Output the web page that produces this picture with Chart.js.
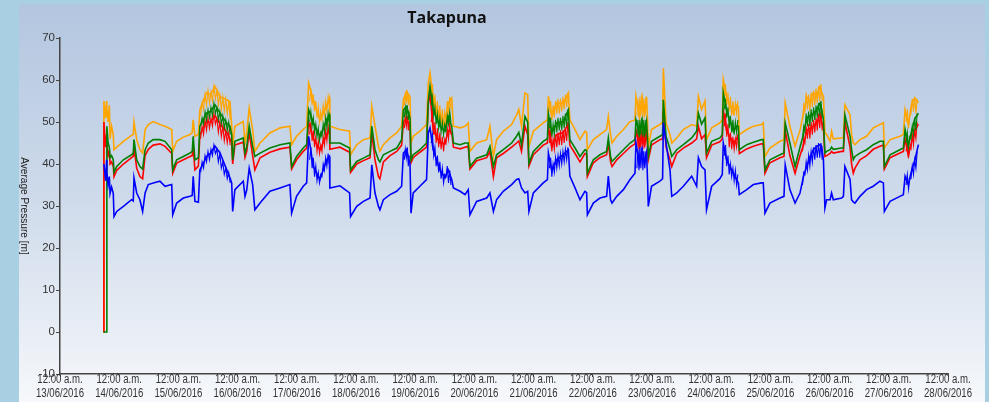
<!DOCTYPE html>
<html>
<head>
<meta charset="utf-8">
<script src="https://cdn.jsdelivr.net/npm/chart.js@4.4.1/dist/chart.umd.min.js"></script>
<style>
  html, body { margin: 0; padding: 0; background: #a9cfe2; }
  canvas { display: block; }
</style>
</head>
<body>
<canvas id="takapuna" width="989" height="402"></canvas>
<script>
// hours since 12:00 a.m. 13/06/2016
const hours = [
  17.6, 17.8, 18.5, 18.9, 19.0, 19.5, 20.0, 20.3, 20.9, 21.6, 21.9, 23.0, 25.7, 29.0, 29.7, 30.0,
  31.1, 32.4, 33.5, 34.5, 35.8, 37.8, 40.5, 42.6, 45.3, 45.7, 47.3, 50.0, 52.7, 53.6, 54.0, 54.7,
  56.1, 56.7, 58.0, 59.4, 61.0, 62.8, 64.9, 67.6, 68.9, 69.6, 70.0, 70.9, 74.3, 75.0, 75.7, 76.7,
  78.1, 79.0, 81.1, 85.1, 89.2, 93.2, 93.9, 95.9, 98.6, 100.0, 100.8, 102.7, 105.4, 108.1, 109.2, 109.4,
  113.5, 117.4, 117.8, 120.3, 123.0, 125.7, 126.4, 127.7, 129.1, 129.7, 131.1, 133.8, 136.5, 138.5, 139.2, 140.5,
  141.9, 142.3, 143.2, 145.9, 148.6, 149.3, 150.0, 151.3, 154.0, 156.1, 157.4, 158.8, 159.5, 162.2, 164.2, 165.5,
  166.2, 168.9, 173.0, 174.3, 175.7, 177.0, 179.7, 183.1, 185.1, 186.0, 187.1, 188.5, 189.6, 190.1, 191.9, 195.9,
  197.6, 198.0, 199.3, 201.3, 204.0, 206.1, 206.7, 208.8, 210.8, 212.8, 213.5, 213.8, 216.2, 218.9, 221.6, 222.3,
  223.2, 223.8, 225.7, 228.4, 231.1, 233.1, 233.5, 235.0, 236.0, 237.0, 237.8, 238.2, 238.5, 239.8, 243.2, 244.3,
  244.6, 245.7, 247.3, 248.0, 250.0, 252.7, 256.1, 258.1, 258.8, 260.1, 261.5, 262.1, 264.2, 267.5, 268.5, 268.9,
  270.2, 273.0, 274.3, 275.0, 275.4, 278.4, 281.1, 284.4, 285.1, 285.8, 287.8, 291.9, 293.5, 294.0, 295.9, 298.0,
  300.0, 301.4, 302.7, 304.1, 305.4, 306.8, 308.1, 308.8, 309.5, 310.1, 310.8, 312.2, 312.8, 313.5, 316.9, 317.6,
  318.2, 320.3, 320.9, 321.6, 322.3, 324.3, 327.0, 329.7, 332.4, 333.8, 334.2, 336.5, 340.5, 341.9, 342.6, 343.9,
  345.3, 346.6, 348.0
];

const orange = [
  0, 55, 51, 55, 53, 50, 54, 46, 49, 47, 43.4, 44, 45.4, 46.8, 47, 50,
  45.8, 43.4, 42.6, 48.2, 49.4, 50.1, 49.4, 49, 48.2, 43, 45.4, 46.4, 47, 47.5, 50.5, 46.6,
  47, 52.9, 55, 57, 56.5, 58.5, 56, 55.3, 54.9, 49, 44.2, 49, 50.1, 45, 47.4, 53.3,
  48.2, 43, 45, 47.4, 48.6, 49, 44.6, 46.6, 48.2, 49, 59.3, 55.3, 50.5, 53.7, 55.7, 49,
  48.2, 47.8, 42.2, 44.6, 45.8, 46.2, 53.7, 49, 44.2, 43, 44.6, 46.2, 47.4, 49, 55.3, 57.3,
  56, 45, 46.6, 47.8, 49.4, 59.3, 61.7, 55.3, 51.3, 49, 54.5, 55.7, 49, 48.6, 49, 49.8,
  43, 45, 45.8, 49, 41.8, 45.8, 47.8, 49.4, 51.7, 53, 49, 56.9, 56.5, 44.2, 47.8, 49.8,
  50.5, 56.1, 51.3, 54.5, 54.5, 56.9, 50.5, 48.2, 45.8, 47.8, 47.5, 43.4, 45.8, 47, 48.2, 51.3,
  47, 45, 46.6, 48.2, 50.1, 50.5, 56.1, 51, 56, 52, 56, 50, 44.2, 48.2, 49.4, 50,
  62.8, 49.8, 47, 45, 46.2, 48.2, 49.4, 49, 56.1, 53, 55, 45.8, 48.6, 49.8, 50.5, 60.1,
  56.1, 52.1, 54, 53.7, 47, 48.2, 49, 49.4, 49.8, 41.8, 43.8, 45.4, 45.8, 54.5, 49, 44.2,
  48, 52, 56, 55, 57, 56, 58.5, 57, 56.1, 47.4, 47, 45.4, 47.8, 46, 46.2, 46.2,
  54.1, 51.7, 47, 45, 44.6, 45.8, 46.6, 48.6, 49.4, 49.8, 43.8, 45.8, 46.6, 47, 52.9, 49.4,
  54.5, 55.7, 54.5
];

const green = [
  0, 0, 0, 0, 49, 45, 44, 41.5, 42, 41, 38, 39.4, 41, 42.2, 42.5, 45.8,
  41, 39.4, 38.8, 43.4, 45, 45.8, 45.8, 45.4, 43.4, 38.6, 41, 41.8, 42.6, 43, 46.6, 41,
  41.5, 49, 50.5, 52.1, 52.5, 54.1, 52.1, 49.7, 49, 47, 41, 45.4, 46.2, 42.6, 44, 49,
  44.2, 41.8, 42.6, 43.8, 44.6, 45, 39.4, 41.8, 43.8, 44.6, 52.9, 49.8, 46.6, 50.5, 51.7, 45,
  45, 43.8, 38.6, 40.6, 41.4, 42.2, 49, 43.4, 41, 40.5, 42.2, 43, 43.8, 45.8, 52.9, 53.7,
  51, 41, 42.2, 43.4, 45, 55, 58.5, 52.9, 49, 47.8, 51.3, 49, 45, 44.6, 45, 45,
  39.4, 41.4, 42.2, 44.2, 39.4, 42.2, 43.4, 45, 46.6, 47.5, 44.6, 51.3, 50, 40.2, 43, 45.4,
  46, 52, 47.4, 49.8, 50.1, 52.9, 45.8, 43.8, 41.8, 43.4, 43.2, 37.8, 41, 42.2, 43, 46.2,
  41.8, 40.6, 41.8, 43.4, 45, 45.8, 50.5, 47, 50.5, 47, 50, 46, 41.8, 45.4, 46.6, 47,
  55.3, 46.6, 43.5, 41.8, 43.4, 44.6, 46.2, 47.8, 52.1, 49.5, 51, 42.6, 45.4, 46.2, 47, 56.9,
  52.9, 47.8, 49, 49, 43.4, 44.6, 45.2, 45.8, 45.8, 38.6, 41, 42.2, 42.6, 49.8, 45, 39.4,
  44, 47, 51, 51.5, 52, 53, 54.5, 53, 50.5, 42.6, 43, 43.4, 44, 43.5, 43.8, 43.8,
  51.7, 46.6, 43.5, 41, 41.8, 42.6, 43.4, 44.6, 45.4, 45.4, 39.4, 42.2, 43.4, 43.8, 48.2, 44.2,
  48, 50.9, 52.1
];

const red = [
  0, 50, 44, 47, 45, 42, 43, 40, 40.5, 39.5, 37, 38.5, 40, 41.5, 41.8, 44,
  39, 37, 36.5, 42, 43.5, 44.5, 44.8, 44.2, 42.5, 37.8, 40.2, 41, 41.8, 42, 44, 38.6,
  39.5, 47, 48.5, 50, 50, 51.5, 49.5, 47.5, 46, 45, 40, 44.5, 45.2, 41.6, 43, 47.5,
  42, 38.6, 41.5, 42.8, 43.6, 44, 38.8, 41, 43, 43.8, 50, 46, 43.4, 47, 48.5, 43.5,
  44, 42.8, 38, 40, 40.8, 41.5, 47.5, 41, 37, 36.5, 40.5, 42, 43, 44.5, 50, 51,
  49, 40.3, 41.5, 42.8, 44, 54, 57, 48, 45, 44.8, 48, 47.5, 44, 43.6, 44, 44.2,
  38.8, 40.8, 41.5, 43, 37, 41.5, 42.5, 44, 45, 45.5, 43, 49, 47, 39.5, 42.2, 44.5,
  45, 49, 44, 47, 47.5, 49.5, 44.5, 42.5, 40.5, 42.5, 42.3, 37, 40.3, 41.5, 42.2, 45,
  40.5, 39.4, 41, 42.5, 44, 44.8, 48, 44, 47, 44.5, 47.5, 44, 41, 44.5, 45.8, 46,
  53, 44, 41, 39.4, 42.5, 43.8, 45, 46, 49, 46, 47, 41.5, 44.5, 45.3, 46, 53,
  48, 45, 46, 47, 42.5, 43.6, 44.2, 44.8, 44.8, 37.8, 40.3, 41.5, 41.8, 48, 42, 37.8,
  42, 44.5, 48, 48.5, 49, 50, 51.5, 50, 48.5, 41.8, 42, 42.5, 43, 42.6, 43, 43,
  50, 44, 40, 37.8, 39, 41, 42, 43.5, 44.2, 44.5, 38.8, 41.5, 42.6, 43, 46, 42,
  45.5, 48, 49.5
];

const blue = [
  null, 40, 36, 41, 38, 35, 37, 33, 34.5, 33, 27.5, 28.7, 29.9, 31.5, 31.2, 36.7,
  33.1, 31.5, 28.7, 33.1, 35.1, 35.5, 35.9, 34.7, 35.1, 27.9, 30.7, 31.9, 32.3, 32.5, 37.1, 31.1,
  30.9, 38.6, 40, 41.8, 42.5, 44.3, 42.6, 38.6, 36.7, 35.5, 28.7, 33.9, 35.9, 32.3, 33.8, 39,
  35.1, 29.1, 30.7, 33.5, 34.3, 35.1, 28.3, 32.3, 34.7, 35.5, 46.6, 39.4, 36.3, 41, 41.8, 34.3,
  34.8, 33.1, 27.5, 29.9, 31.1, 31.9, 39.8, 33.1, 29.9, 29.1, 31.5, 32.7, 33.5, 34.7, 42.6, 43.4,
  40, 28.3, 33.1, 34.7, 36.3, 47.4, 48.6, 43.4, 38.6, 36.7, 38.6, 36.3, 34.3, 33.5, 32.7, 33.9,
  27.9, 31.1, 31.9, 33.1, 28.7, 31.5, 33.5, 35.1, 36.3, 36.5, 34.3, 33.1, 33.5, 28.7, 33.1, 35.5,
  36.3, 42.6, 38.6, 41, 42.2, 43.4, 37.1, 34.3, 31.5, 33.5, 33.2, 27.9, 30.7, 31.9, 32.3, 37.1,
  31.5, 30.7, 32.3, 33.9, 36.3, 37.8, 45, 40, 43.5, 40, 42.6, 36, 29.9, 34.7, 35.9, 36.5,
  49.8, 45, 38.6, 32.3, 33.1, 34.7, 37.1, 34.7, 41.5, 39.4, 38.6, 29.1, 34.7, 36.5, 37.5, 45,
  41, 37.8, 36.3, 35.5, 32.7, 33.9, 35.1, 35.5, 35.5, 28.3, 30.7, 31.9, 32.3, 39.8, 33.9, 30.7,
  33.1, 37, 39.4, 41.8, 43.4, 44.2, 44.6, 44.2, 41, 29.5, 31.5, 31.5, 33.1, 31.5, 31.9, 32.3,
  39.4, 36.3, 31.5, 31, 30.7, 32.3, 33.9, 34.7, 35.9, 35.5, 28.7, 31.1, 32.3, 32.7, 37.1, 35.1,
  38.6, 41, 44.6
];

// noisy high-pressure stretches, read as upper/lower swings; null breaks the line
const bandHours = [
  57.0, 57.6, 58.2, 58.8, 59.4, 60.0, 60.6, 61.2, 61.8, 62.4, 63.0, 63.6, 64.2, 64.8, 65.4, 66.0, 66.6, 67.2, 67.8, 68.4, 69.0, 69.3,
  101.2, 101.7, 102.2, 102.7, 103.2, 103.7, 104.2, 104.7, 105.2, 105.7, 106.2, 106.7, 107.2, 107.7, 108.2, 108.7, 109.1, 109.3,
  139.6, 140.0, 140.4, 140.8, 141.2, 141.6, 141.8,
  150.5, 151.0, 151.5, 152.0, 152.5, 153.0, 153.5, 154.0, 154.5, 155.0, 155.5, 156.0, 156.5, 157.0, 157.5, 158.0, 158.5, 158.9,
  198.4, 198.9, 199.4, 199.9, 200.4, 200.9, 201.4, 201.9, 202.4, 202.9, 203.4, 203.9, 204.4, 204.9, 205.4, 205.9, 206.3,
  233.9, 234.3, 234.7, 235.1, 235.5, 235.9, 236.3, 236.7, 237.1, 237.5, 237.9,
  269.3, 269.8, 270.3, 270.8, 271.3, 271.8, 272.3, 272.8, 273.3, 273.8, 274.3, 274.8, 275.1,
  301.0, 301.5, 302.0, 302.5, 303.0, 303.5, 304.0, 304.5, 305.0, 305.5, 306.0, 306.5, 307.0, 307.5, 308.0, 308.5, 309.0, 309.3,
  343.0, 343.5, 344.0, 344.5, 345.0, 345.5, 346.0, 346.5, 347.0, 347.5
];

const orangeBand = [
  51.5, 54.5, 53, 56.5, 54, 57.5, 54.5, 57, 55, 58.5, 55.5, 57.5, 54, 56.5, 53, 56, 52.5, 55.5, 52, 55, 50.5, null,
  55, 58, 54, 56.5, 52.5, 55, 51, 53.5, 50, 52.5, 50.5, 54, 51.5, 55, 52.5, 56, 54, null,
  54, 57, 54.5, 57.5, 54, 56.5, null,
  56, 59, 53.5, 56.5, 51.5, 55, 50.5, 54, 49.5, 53, 49, 52.5, 50.5, 55, 52, 56, 53, null,
  52.5, 55, 50.5, 54, 51, 55, 52, 55.5, 52, 55.5, 52.5, 56, 53, 56.5, 53.5, 57, null,
  51.5, 55.5, 51, 56, 51.5, 56.5, 51, 55.5, 51.5, 56, null,
  56, 59, 54, 57, 52.5, 56, 51.5, 55, 51.5, 54.5, 52, 55, null,
  50.5, 54, 52.5, 57, 53, 56.5, 52.5, 57, 53.5, 57.5, 54, 58, 54.5, 58.5, 55, 59, 55, null,
  50, 53, 48.5, 51.5, 52, 55.5, 52.5, 56, 52, 55.5
];

const greenBand = [
  49, 51, 49.5, 52.5, 50.5, 53, 51, 53.5, 51.5, 54.5, 52, 53.5, 50.5, 52.5, 49.5, 51.5, 48.5, 50.5, 48, 50, 47, null,
  50, 52.5, 49, 51, 47.5, 49.5, 46.5, 48.5, 45.5, 47.5, 46.5, 49.5, 47.5, 51, 48.5, 52, 50, null,
  51, 53.5, 51.5, 54, 50.5, 52.5, null,
  54, 56, 51.5, 53.5, 49.5, 52, 48.5, 51, 47.5, 50, 47, 49.5, 48, 51.5, 49.5, 52.5, 50, null,
  48.5, 51, 46.5, 49.5, 47, 50.5, 47.5, 51, 48, 51, 48, 51.5, 48.5, 52, 49, 53, null,
  47, 50.5, 46.5, 50.5, 47, 51, 46.5, 50.5, 47, 50.5, null,
  53, 55.5, 51, 53.5, 48.5, 51.5, 47.5, 50.5, 47, 50, 47.5, 50.5, null,
  46, 49, 48, 52, 49, 52.5, 49, 53, 50, 53.5, 50.5, 54, 51, 54.5, 51.5, 55, 51, null,
  45, 47.5, 44, 46.5, 46, 49, 47, 51, 48, 52
];

const redBand = [
  46, 49, 47, 50.5, 48, 51, 48.5, 51, 49, 52, 49.5, 51, 47.5, 50, 46.5, 49, 45.5, 48, 45, 47.5, 44.5, null,
  47, 50, 45.5, 48, 44, 46.5, 43, 45.5, 42.5, 44.5, 43, 46.5, 44.5, 48, 45.5, 49, 47, null,
  48.5, 51, 49, 51.5, 48, 50, null,
  50, 53, 47, 50, 45, 48.5, 44, 47.5, 43.5, 46.5, 43, 46, 45, 48.5, 46, 49.5, 47, null,
  45, 48, 43, 46, 43.5, 47, 44, 47.5, 44.5, 48, 44.5, 48, 45, 48.5, 45.5, 50, null,
  44, 48, 43.5, 48, 44, 48, 43.5, 47.5, 44, 47.5, null,
  49, 52, 46.5, 49.5, 44, 47.5, 43.5, 46.5, 43.5, 46, 44, 47, null,
  43, 46, 45, 49, 46, 49.5, 46, 50, 47, 50.5, 47.5, 51, 48, 52, 48.5, 52.5, 48, null,
  43, 45.5, 41.5, 44, 43.5, 47, 44.5, 48, 46, 50
];

const blueBand = [
  38, 40.5, 39, 42, 40.5, 43, 41, 43.5, 42, 44.5, 42.5, 43.5, 40.5, 42.5, 39, 40.5, 37.5, 39, 36.5, 38, 35.5, null,
  41, 44, 39, 41.5, 37, 39.5, 36, 38, 35.5, 37.5, 37, 40, 38.5, 41.5, 39.5, 42.5, 40, null,
  41, 43.5, 41.5, 44, 39.5, 42, null,
  45, 47, 42, 44, 39.5, 42, 38, 40.5, 36.5, 39, 35.5, 37.5, 37, 39.5, 35.5, 38.5, 35, null,
  39, 41.5, 37, 40, 38, 41.5, 39, 42, 39.5, 42.5, 40, 43, 40.5, 43.5, 41, 44, null,
  39, 43.5, 38.5, 44, 39, 44, 38.5, 43, 39, 43, null,
  42, 44.5, 39.5, 42, 37.5, 40, 37, 39, 36, 38.5, 35, 37.5, null,
  35, 38, 37.5, 40.5, 38.5, 42, 39.5, 43, 40.5, 44, 41, 44.5, 41.5, 45, 41.5, 45, 41, null,
  35, 37.5, 34, 36.5, 36.5, 39.5, 37.5, 41, 39, 43
];

const yTicks = [-10, 0, 10, 20, 30, 40, 50, 60, 70];
const firstDay = 13; // June 2016

const points = (xs, vals) => xs.map((h, i) => ({ x: h, y: vals[i] }));

const narrowFont = "'Liberation Sans', Arial, sans-serif";

const panelPlugin = {
  id: 'panel',
  beforeDraw(chart) {
    const ctx = chart.ctx;
    ctx.save();
    ctx.fillStyle = '#a9cfe2';
    ctx.fillRect(0, 0, chart.width, chart.height);
    const g = ctx.createLinearGradient(0, 4, 0, chart.height);
    g.addColorStop(0, '#b3c6df');
    g.addColorStop(0.5, '#cfdbeb');
    g.addColorStop(1, '#f6f8fb');
    ctx.fillStyle = g;
    ctx.fillRect(19, 4, 966, chart.height - 4);
    ctx.restore();
  },
  afterDraw(chart) {
    const ctx = chart.ctx;
    const a = chart.chartArea;
    ctx.save();
    ctx.fillStyle = '#111';
    ctx.font = "bold 16px 'Open Sans', sans-serif";
    ctx.textAlign = 'center';
    ctx.textBaseline = 'alphabetic';
    ctx.fillText('Takapuna', 447, 23);

    // date labels under the x axis, slightly condensed
    const xs = chart.scales.x;
    ctx.fillStyle = '#333';
    ctx.font = '12px ' + narrowFont;
    ctx.textBaseline = 'middle';
    xs.ticks.forEach(t => {
      const px = xs.getPixelForValue(t.value);
      const day = String(firstDay + t.value / 24).padStart(2, '0');
      ctx.save();
      ctx.translate(px, a.bottom);
      ctx.scale(0.8, 1);
      ctx.fillText('12:00 a.m.', 0, 6);
      ctx.fillText(day + '/06/2016', 0, 19.5);
      ctx.restore();
    });

    // vertical axis title, reading top to bottom
    ctx.translate(24, (a.top + a.bottom) / 2);
    ctx.rotate(Math.PI / 2);
    ctx.scale(0.92, 1);
    ctx.font = '11px ' + narrowFont;
    ctx.fillStyle = '#222';
    ctx.fillText('Average Pressure [m]', 0, 0);
    ctx.restore();
  }
};

const bandStyle = { borderWidth: 1.1, spanGaps: false };

new Chart(document.getElementById('takapuna'), {
  type: 'line',
  data: {
    datasets: [
      { label: 'Blue', data: points(hours, blue), borderColor: '#0000ff' },
      { label: 'Blue band', data: points(bandHours, blueBand), borderColor: '#0000ff', ...bandStyle },
      { label: 'Green', data: points(hours, green), borderColor: '#008000' },
      { label: 'Green band', data: points(bandHours, greenBand), borderColor: '#008000', ...bandStyle },
      { label: 'Red', data: points(hours, red), borderColor: '#ff0000' },
      { label: 'Red band', data: points(bandHours, redBand), borderColor: '#ff0000', ...bandStyle },
      { label: 'Orange', data: points(hours, orange), borderColor: '#ffa500' },
      { label: 'Orange band', data: points(bandHours, orangeBand), borderColor: '#ffa500', ...bandStyle }
    ]
  },
  options: {
    responsive: false,
    animation: false,
    layout: { padding: { top: 38, right: 41, left: 0, bottom: 0 } },
    elements: {
      point: { radius: 0 },
      line: { borderWidth: 1.6, tension: 0 }
    },
    plugins: {
      legend: { display: false },
      title: { display: false },
      tooltip: { enabled: false }
    },
    scales: {
      x: {
        type: 'linear',
        min: 0,
        max: 360,
        afterFit: s => { s.height = 28; },
        ticks: {
          stepSize: 24,
          autoSkip: false,
          maxRotation: 0,
          padding: 0,
          color: 'rgba(0,0,0,0)',
          font: { family: narrowFont, size: 9 },
          callback: v => '12:00 a.m.'
        },
        grid: { drawOnChartArea: false, tickLength: 3, color: '#444' },
        border: { color: '#444', width: 1.5 }
      },
      y: {
        min: -10,
        max: 70,
        afterFit: s => { s.width = 60; },
        afterBuildTicks: s => { s.ticks = yTicks.map(v => ({ value: v })); },
        ticks: {
          padding: 1,
          color: '#333',
          font: { family: narrowFont, size: 11.5 }
        },
        grid: { drawOnChartArea: false, tickLength: 4, color: '#444' },
        border: { color: '#444', width: 1.5 }
      }
    }
  },
  plugins: [panelPlugin]
});
</script>
</body>
</html>
